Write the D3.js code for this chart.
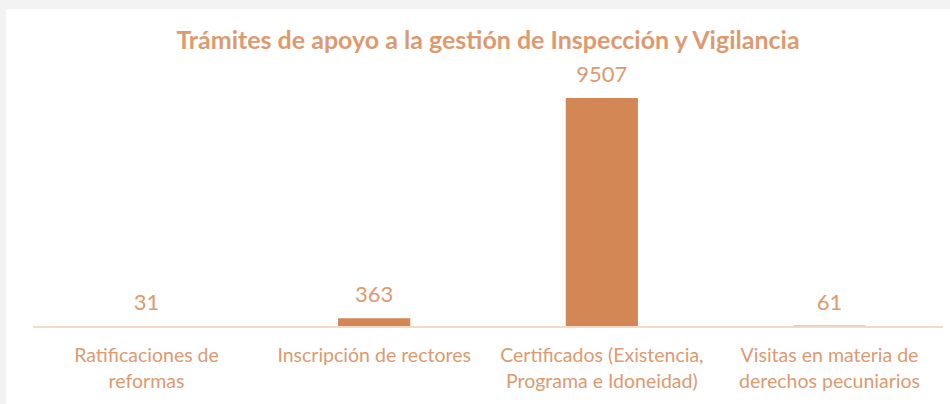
<!DOCTYPE html>
<html>
<head>
<meta charset="utf-8">
<script src="https://cdn.jsdelivr.net/npm/d3@7"></script>
<style>
  html, body { margin: 0; padding: 0; background: #ffffff; width: 950px; height: 404px; }
  svg { display: block; }
  text { font-family: Lato, "Open Sans", sans-serif; fill: #dc9a70; }
</style>
</head>
<body>
<svg width="950" height="404" viewBox="0 0 950 404"></svg>
<script>
const categories = [
  ["Ratificaciones de", "reformas"],
  ["Inscripción de rectores"],
  ["Certificados (Existencia,", "Programa e Idoneidad)"],
  ["Visitas en materia de", "derechos pecuniarios"]
];
const values = [31, 363, 9507, 61];
const title = 'Trámites de apoyo a la gestión de Inspección y Vigilancia';

const svg = d3.select('svg');
const width = +svg.attr('width');
const height = +svg.attr('height');

const barColor = '#d38755';

// grey frame along the top and left edges
svg.append('rect')
  .attr('x', 0).attr('y', 0)
  .attr('width', width).attr('height', 9)
  .attr('fill', '#f3f3f3');
svg.append('rect')
  .attr('x', 0).attr('y', 0)
  .attr('width', 6).attr('height', height)
  .attr('fill', '#f3f3f3');

const margin = { top: 98, right: 7, bottom: 77, left: 33 };
const innerWidth = width - margin.left - margin.right;
const innerHeight = height - margin.top - margin.bottom;

const idx = values.map((d, i) => i);
const xScale = d3.scaleBand()
  .domain(idx)
  .range([margin.left, margin.left + innerWidth])
  .paddingInner(0.683)
  .paddingOuter(0.34);

const yScale = d3.scaleLinear()
  .domain([0, d3.max(values)])
  .range([margin.top + innerHeight, margin.top]);

const baseY = yScale(0);

// title
svg.append('text')
  .attr('x', margin.left + innerWidth / 2)
  .attr('y', 49)
  .attr('text-anchor', 'middle')
  .attr('font-weight', 'bold')
  .attr('font-size', 25)
  .text(title);

// bars
svg.selectAll('.bar').data(values)
  .enter().append('rect')
    .attr('class', 'bar')
    .attr('x', (d, i) => xScale(i))
    .attr('y', d => yScale(d))
    .attr('width', xScale.bandwidth())
    .attr('height', d => baseY - yScale(d))
    .attr('fill', barColor);

// baseline
svg.append('line')
  .attr('x1', xScale.range()[0])
  .attr('x2', xScale.range()[1])
  .attr('y1', baseY)
  .attr('y2', baseY)
  .attr('stroke', '#f4d9c7')
  .attr('stroke-width', 2);

// value labels
svg.selectAll('.val').data(values)
  .enter().append('text')
    .attr('class', 'val')
    .attr('x', (d, i) => xScale(i) + xScale.bandwidth() / 2)
    .attr('y', d => yScale(d) - 16)
    .attr('text-anchor', 'middle')
    .attr('font-size', 22)
    .text(d => d);

// category labels, one text per line
const lines = [];
categories.forEach((c, i) => c.forEach((t, j) => lines.push({ i, j, t })));
svg.selectAll('.cat').data(lines)
  .enter().append('text')
    .attr('class', 'cat')
    .attr('x', d => xScale(d.i) + xScale.bandwidth() / 2)
    .attr('y', d => baseY + 35 + d.j * 26)
    .attr('text-anchor', 'middle')
    .attr('font-size', 19.5)
    .text(d => d.t);
</script>
</body>
</html>
